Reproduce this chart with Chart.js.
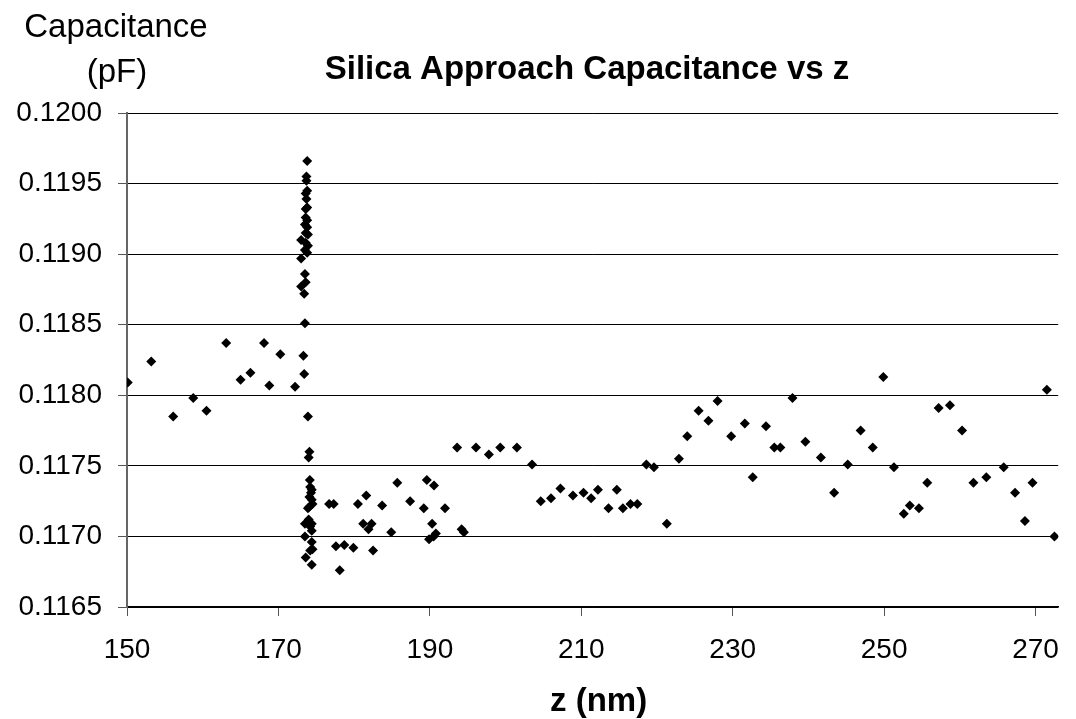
<!DOCTYPE html>
<html>
<head>
<meta charset="utf-8">
<title>Silica Approach Capacitance vs z</title>
<script src="https://cdn.jsdelivr.net/npm/chart.js@4.4.1/dist/chart.umd.min.js"></script>
<style>
    html, body { margin: 0; padding: 0; background: #fff; }
    canvas { display: block; }
</style>
</head>
<body>
<canvas id="cap-chart" width="1076" height="719"></canvas>
<script>
// z position (nm)
const zNm = [
    150.1, 153.2, 156.1, 158.75, 160.5, 163.1, 165.0, 166.3, 168.1, 168.8, 170.25, 172.2,
    // vertical band at z ~ 173-174
    173.8, 173.7, 173.7, 173.8, 173.6, 173.7, 173.8, 173.6, 173.6, 173.8,
    173.5, 173.8, 173.6, 173.9, 173.0, 173.6, 173.9, 173.5, 173.8, 173.0,
    173.5, 173.6, 173.0, 173.4, 173.5, 173.3, 173.4, 173.9, 174.1, 174.0,
    174.15, 174.2, 174.4, 174.3, 174.1, 174.4, 174.5, 174.1, 173.9, 174.0,
    173.5, 174.4, 174.2, 174.4, 173.5, 174.4, 174.5, 174.2, 173.6, 174.4,
    // rest of the approach
    176.7, 177.3, 177.6, 178.1, 178.7, 179.9, 180.5, 181.2, 181.6, 181.9,
    182.3, 182.5, 183.7, 184.9, 185.7, 187.4, 189.2, 189.6, 189.9, 190.3,
    190.5, 190.8, 190.55, 192.0, 193.6, 194.2, 194.5, 196.1, 197.8, 199.3,
    201.5, 203.5, 204.65, 206.0, 207.25, 208.9, 210.3, 211.3, 212.2, 213.6,
    214.7, 215.5, 216.5, 217.4, 218.6, 219.6, 221.3, 222.9, 224.0, 225.5,
    226.8, 228.0, 229.8, 231.6, 232.65, 234.4, 235.5, 236.3, 237.9, 239.6,
    241.65, 243.4, 245.2, 246.9, 248.5, 249.9, 251.3, 252.6, 253.4, 254.6,
    255.7, 257.2, 258.7, 260.3, 261.8, 263.5, 265.8, 267.3, 268.6, 269.6,
    271.5, 272.5
];

// capacitance (pF), same order as zNm
const capacitancePf = [
    0.11809, 0.11824, 0.11785, 0.11798, 0.11789, 0.11837, 0.11811, 0.11816, 0.11837, 0.11807, 0.11829, 0.11806,
    0.11966, 0.11955, 0.11952, 0.11945, 0.11943, 0.11939, 0.11933, 0.11932, 0.11926, 0.11924,
    0.11921, 0.11919, 0.11915, 0.11914, 0.11910, 0.11908, 0.11906, 0.11903, 0.11901, 0.11897,
    0.11886, 0.11880, 0.11877, 0.11872, 0.11851, 0.11828, 0.11815, 0.11785, 0.11760, 0.11756,
    0.11740, 0.11735, 0.11733, 0.11731, 0.11728, 0.11726, 0.11723, 0.11721, 0.11720, 0.11712,
    0.11709, 0.11709, 0.11707, 0.11704, 0.11700, 0.11696, 0.11691, 0.11690, 0.11685, 0.11680,
    0.11723, 0.11723, 0.11693, 0.11676, 0.11694, 0.11692, 0.11723, 0.11709, 0.11729, 0.11705,
    0.11709, 0.11690, 0.11722, 0.11703, 0.11738, 0.11725, 0.11720, 0.11740, 0.11698, 0.11709,
    0.11700, 0.11702, 0.11736, 0.11720, 0.11763, 0.11705, 0.11703, 0.11763, 0.11758, 0.11763,
    0.11763, 0.11751, 0.11725, 0.11727, 0.11734, 0.11729, 0.11731, 0.11727, 0.11733, 0.11720,
    0.11733, 0.11720, 0.11723, 0.11723, 0.11751, 0.11749, 0.11709, 0.11755, 0.11771, 0.11789,
    0.11782, 0.11796, 0.11771, 0.11780, 0.11742, 0.11778, 0.11763, 0.11763, 0.11798, 0.11767,
    0.11756, 0.11731, 0.11751, 0.11775, 0.11763, 0.11813, 0.11749, 0.11716, 0.11722, 0.11720,
    0.11738, 0.11791, 0.11793, 0.11775, 0.11738, 0.11742, 0.11749, 0.11731, 0.11711, 0.11738,
    0.11804, 0.11700
];

// axis ticks
const xTickValues = [150, 170, 190, 210, 230, 250, 270];
const yTickValues = [0.1165, 0.1170, 0.1175, 0.1180, 0.1185, 0.1190, 0.1195, 0.1200];

const CHART_TITLE = 'Silica Approach Capacitance vs z';
const X_TITLE = 'z (nm)';
const Y_TITLE_LINES = ['Capacitance', '(pF)'];

const FONT = "'Liberation Sans', Arial, sans-serif";

// Excel-style titles placed where the original has them
const titlesPlugin = {
    id: 'titles',
    afterDraw(chart) {
        const ctx = chart.ctx;
        const area = chart.chartArea;
        ctx.save();
        ctx.fillStyle = '#000';
        ctx.textAlign = 'center';
        ctx.textBaseline = 'middle';

        ctx.font = `33px ${FONT}`;
        ctx.fillText(Y_TITLE_LINES[0], 116, 28);
        ctx.fillText(Y_TITLE_LINES[1], 117, 73);

        ctx.font = `bold 33px ${FONT}`;
        ctx.fillText(CHART_TITLE, 587, 70);
        ctx.fillText(X_TITLE, (area.left + area.right) / 2 + 6, 702);
        ctx.restore();
    }
};

const points = zNm.map((z, i) => ({ x: z, y: capacitancePf[i] }));

new Chart(document.getElementById('cap-chart'), {
    type: 'scatter',
    data: {
        datasets: [{
            label: 'Capacitance',
            data: points,
            pointStyle: 'rectRot',
            pointRadius: 5,
            pointHoverRadius: 5,
            backgroundColor: '#000',
            borderColor: '#000',
            borderWidth: 0
        }]
    },
    options: {
        responsive: false,
        animation: false,
        layout: {
            padding: { top: 113, left: 0, right: 0, bottom: 0 }
        },
        plugins: {
            legend: { display: false },
            title: { display: false },
            tooltip: { enabled: false }
        },
        scales: {
            x: {
                type: 'linear',
                min: 150,
                max: 273,
                afterFit(scale) { scale.height = 112; },
                afterBuildTicks(scale) {
                    scale.ticks = xTickValues.map(v => ({ value: v }));
                },
                border: { display: true, color: '#000', width: 1.5 },
                grid: {
                    drawOnChartArea: false,
                    drawTicks: true,
                    tickLength: 9,
                    tickColor: '#555'
                },
                ticks: {
                    color: '#000',
                    padding: 17,
                    maxRotation: 0,
                    autoSkip: false,
                    font: { family: FONT, size: 28 },
                    callback: v => String(v)
                }
            },
            y: {
                type: 'linear',
                min: 0.1165,
                max: 0.1200,
                afterFit(scale) { scale.width = 127; },
                afterBuildTicks(scale) {
                    scale.ticks = yTickValues.map(v => ({ value: v }));
                },
                border: { display: true, color: '#666', width: 2 },
                grid: {
                    color: '#000',
                    lineWidth: 1,
                    drawTicks: true,
                    tickLength: 9,
                    tickColor: '#555'
                },
                ticks: {
                    color: '#000',
                    padding: 16,
                    autoSkip: false,
                    font: { family: FONT, size: 28 },
                    callback: v => Number(v).toFixed(4)
                }
            }
        }
    },
    plugins: [titlesPlugin]
});
</script>
</body>
</html>
